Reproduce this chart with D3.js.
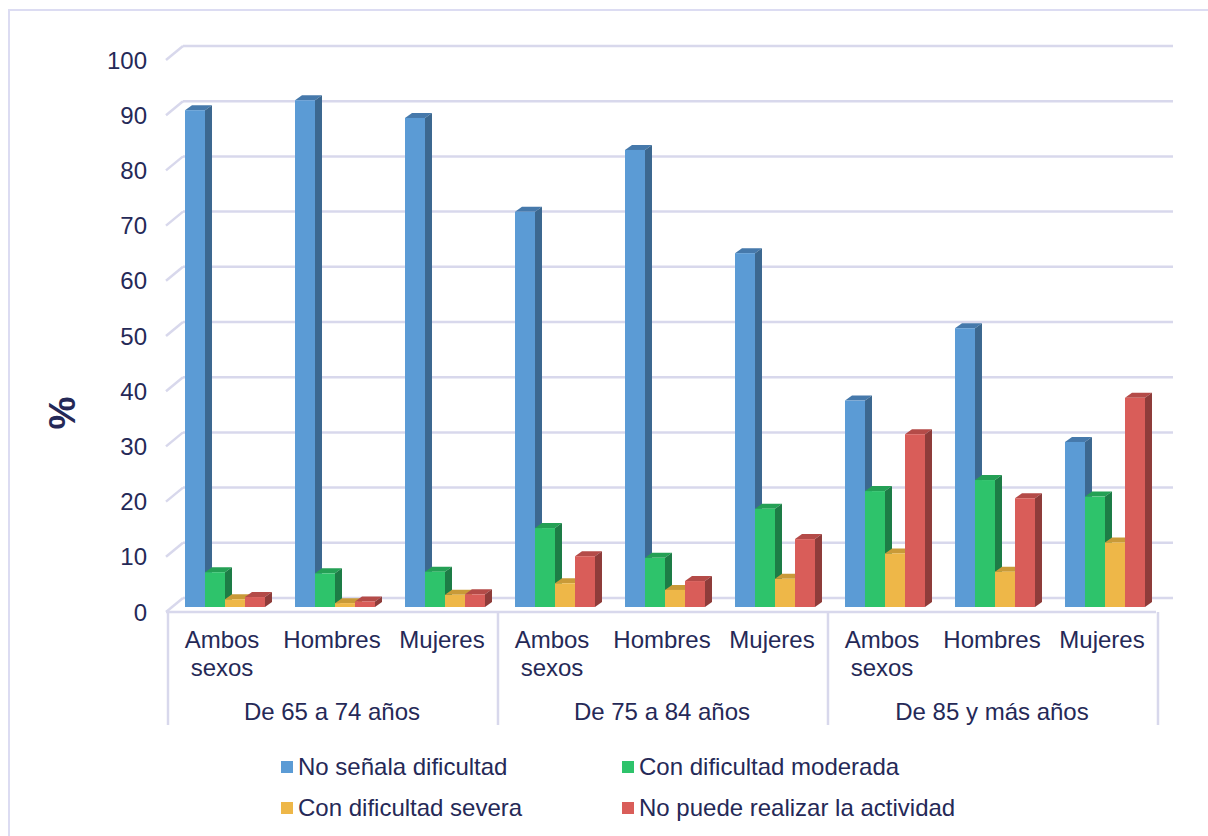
<!DOCTYPE html>
<html>
<head>
<meta charset="utf-8">
<script src="https://cdn.jsdelivr.net/npm/d3@7"></script>
<style>
  html, body { margin: 0; padding: 0; background: #fff; }
  svg { display: block; }
  text { font-family: "Liberation Sans", Arial, sans-serif; fill: #252957; }
</style>
</head>
<body>
<svg id="chart" width="1208" height="836"></svg>
<script>
// Age groups and sexes along the category axis
const ageGroups = ["De 65 a 74 años", "De 75 a 84 años", "De 85 y más años"];
const sexes = [["Ambos", "sexos"], ["Hombres"], ["Mujeres"]];

// Series (percentages), one value per age group × sex, in category order
const seriesNames = ["No señala dificultad", "Con dificultad moderada", "Con dificultad severa", "No puede realizar la actividad"];
const noDificultad   = [90.0, 91.8, 88.6, 71.6, 82.8, 64.1, 37.4, 50.5, 29.9];
const moderada       = [6.3, 6.1, 6.4, 14.3, 8.9, 17.8, 21.0, 23.0, 20.0];
const severa         = [1.4, 0.7, 2.2, 4.3, 3.1, 5.1, 9.7, 6.4, 11.7];
const noPuede        = [1.8, 1.0, 2.3, 9.2, 4.7, 12.3, 31.3, 19.7, 37.9];
const seriesValues = [noDificultad, moderada, severa, noPuede];

const yTicks = [0, 10, 20, 30, 40, 50, 60, 70, 80, 90, 100];

// Face colours per series: front, side, top
const palette = [
  { front: "#5b9bd5", side: "#3c6890", top: "#4679ab" },
  { front: "#2ec36b", side: "#1d7c46", top: "#24a055" },
  { front: "#eeb748", side: "#b78b30", top: "#c99a38" },
  { front: "#d95d59", side: "#8e3c3a", top: "#b44b48" }
];

const svg = d3.select("#chart");

// Outer frame
svg.append("rect")
  .attr("x", 9).attr("y", 10).attr("width", 1240).attr("height", 900)
  .attr("fill", "none").attr("stroke", "#dcdcf2").attr("stroke-width", 2);

// 3D geometry: wall depth and bar depth
const wallDX = 17, wallDY = -14;
const barDX = 7, barDY = -5;

const plotLeft = 166, plotRight = 1156;
const yFront = d3.scaleLinear().domain([0, 100]).range([612, 60]);
const yBar   = d3.scaleLinear().domain([0, 100]).range([607, 55]);
const yBack  = v => yFront(v) + wallDY;

const categories = d3.range(9);
const x = d3.scaleBand().domain(categories).range([plotLeft + 2, plotRight + 2]).paddingInner(0.2727).paddingOuter(0.1364);
const xs = d3.scaleBand().domain(d3.range(4)).range([0, x.bandwidth()]);

const gridColor = "#d8d8ec";

// Back wall gridlines and left wall diagonals
const grid = svg.append("g");
yTicks.forEach(v => {
  grid.append("line")
    .attr("x1", plotLeft + wallDX).attr("x2", plotRight + wallDX)
    .attr("y1", yBack(v)).attr("y2", yBack(v))
    .attr("stroke", gridColor).attr("stroke-width", 2.5);
  grid.append("line")
    .attr("x1", plotLeft).attr("y1", yFront(v))
    .attr("x2", plotLeft + wallDX).attr("y2", yBack(v))
    .attr("stroke", gridColor).attr("stroke-width", 2.5);
});

// Floor front edge
grid.append("line")
  .attr("x1", plotLeft).attr("x2", plotRight)
  .attr("y1", yFront(0)).attr("y2", yFront(0))
  .attr("stroke", gridColor).attr("stroke-width", 2.5);

// Y tick labels
svg.append("g").selectAll("text").data(yTicks).join("text")
  .attr("x", 147).attr("y", d => yFront(d))
  .attr("dy", "0.36em")
  .attr("text-anchor", "end")
  .attr("font-size", 24)
  .text(d => d);

// Y axis title
svg.append("text")
  .attr("transform", "translate(75,413) rotate(-90)")
  .attr("text-anchor", "middle")
  .attr("font-size", 37).attr("font-weight", "bold")
  .text("%");

// Bars with front, side and top faces
const bars = svg.append("g").attr("transform", "translate(2,0)");
categories.forEach(ci => {
  seriesValues.forEach((vals, si) => {
    const v = vals[ci];
    const x0 = x(ci) + xs(si), w = xs.bandwidth();
    const yt = yBar(v), yb = yBar(0);
    const c = palette[si];
    bars.append("path")
      .attr("d", `M${x0},${yt} L${x0 + barDX},${yt + barDY} L${x0 + w + barDX},${yt + barDY} L${x0 + w},${yt} Z`)
      .attr("fill", c.top);
    bars.append("path")
      .attr("d", `M${x0 + w},${yt} L${x0 + w + barDX},${yt + barDY} L${x0 + w + barDX},${yb + barDY} L${x0 + w},${yb} Z`)
      .attr("fill", c.side);
    bars.append("rect")
      .attr("x", x0).attr("y", yt).attr("width", w).attr("height", yb - yt)
      .attr("fill", c.front);
  });
});

// Category axis: sex labels, age group labels and separators
const catAxis = svg.append("g");
const boxTop = yFront(0), boxBottom = 725;
const groupEdges = [0, 3, 6, 9].map(i => plotLeft + 2 + i * x.step());
groupEdges.forEach(xe => {
  catAxis.append("line")
    .attr("x1", xe).attr("x2", xe).attr("y1", boxTop).attr("y2", boxBottom)
    .attr("stroke", gridColor).attr("stroke-width", 2.5);
});
categories.forEach(ci => {
  const lines = sexes[ci % 3];
  const cx = x(ci) + x.bandwidth() / 2 - 1;
  lines.forEach((ln, li) => {
    catAxis.append("text")
      .attr("x", cx).attr("y", 648 + li * 28)
      .attr("text-anchor", "middle").attr("font-size", 24)
      .text(ln);
  });
});
ageGroups.forEach((g, gi) => {
  catAxis.append("text")
    .attr("x", (groupEdges[gi] + groupEdges[gi + 1]) / 2 - 1).attr("y", 720)
    .attr("text-anchor", "middle").attr("font-size", 24)
    .text(g);
});

// Legend
const legendPos = [[281, 761], [622, 761], [281, 802], [622, 802]];
const legend = svg.append("g");
seriesNames.forEach((name, i) => {
  const [lx, ly] = legendPos[i];
  legend.append("rect").attr("x", lx).attr("y", ly).attr("width", 12).attr("height", 12)
    .attr("fill", palette[i].front);
  legend.append("text").attr("x", lx + 17).attr("y", ly + 14)
    .attr("font-size", 24).text(name);
});
</script>
</body>
</html>
